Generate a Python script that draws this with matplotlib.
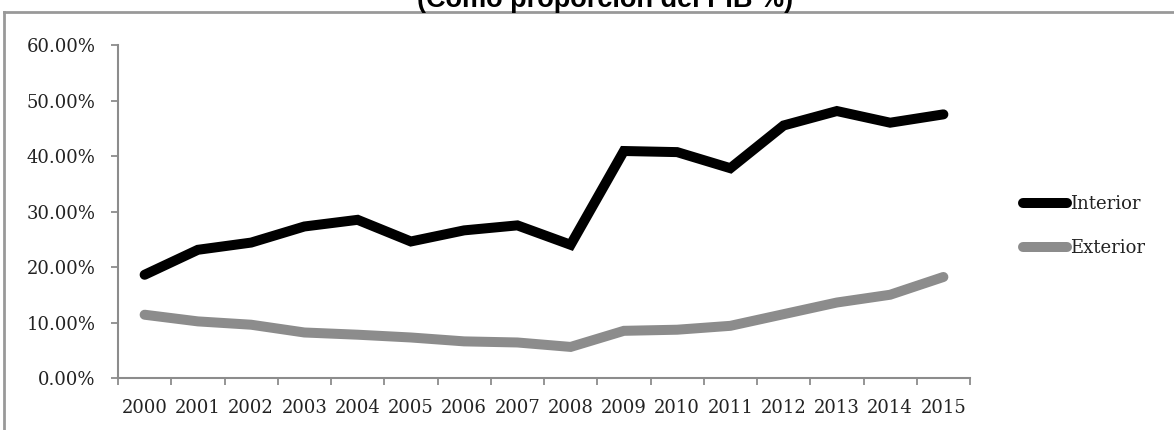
import matplotlib
matplotlib.use('Agg')
import matplotlib.pyplot as plt
from matplotlib.lines import Line2D
from matplotlib.ticker import FuncFormatter, MultipleLocator, FixedLocator
import numpy as np

# data (% of GDP)
years = ['2000', '2001', '2002', '2003', '2004', '2005', '2006', '2007',
         '2008', '2009', '2010', '2011', '2012', '2013', '2014', '2015']
interior = [18.6, 23.1, 24.4, 27.3, 28.5, 24.6, 26.6, 27.5,
            24.0, 40.9, 40.7, 37.8, 45.5, 48.1, 46.0, 47.5]
exterior = [11.4, 10.2, 9.6, 8.2, 7.8, 7.3, 6.6, 6.4,
            5.6, 8.5, 8.7, 9.4, 11.5, 13.6, 15.0, 18.2]

W, H = 1174, 430
fig = plt.figure(figsize=(W / 100, H / 100), dpi=100)
ax = fig.add_axes([118 / W, 1 - 378 / H, (970 - 118) / W, (378 - 45) / H])

x = np.arange(len(years))
ax.plot(x, interior, color='black', lw=7.2, solid_capstyle='round',
        solid_joinstyle='miter', label='Interior')
ax.plot(x, exterior, color='#8c8c8c', lw=7.2, solid_capstyle='round',
        solid_joinstyle='miter', label='Exterior')

ax.set_xlim(-0.5, len(years) - 0.5)
ax.set_ylim(0, 60)
ax.yaxis.set_major_locator(MultipleLocator(10))
ax.yaxis.set_major_formatter(FuncFormatter(lambda v, p: f'{v:.2f}%'))

# category ticks sit between categories, labels at centres
ax.xaxis.set_major_locator(FixedLocator(np.arange(-0.5, len(years), 1.0)))
ax.xaxis.set_major_formatter(FuncFormatter(lambda v, p: ''))
ax.xaxis.set_minor_locator(FixedLocator(x))
ax.set_xticklabels(years, minor=True)
ax.tick_params(axis='x', which='minor', length=0, pad=15)
ax.tick_params(axis='y', pad=11)
ax.tick_params(axis='both', which='major', direction='out', length=5,
               width=1.3, color='#8c8c8c')

for lab in ax.get_yticklabels() + ax.get_xticklabels(minor=True):
    lab.set_family('DejaVu Serif')
    lab.set_fontsize(13)
    lab.set_color('#222222')

for s in ['top', 'right']:
    ax.spines[s].set_visible(False)
for s in ['left', 'bottom']:
    ax.spines[s].set_color('#8c8c8c')
    ax.spines[s].set_linewidth(1.5)

leg = fig.legend(loc='center left', bbox_to_anchor=(1023 / W, 1 - 226 / H),
                 frameon=False, handlelength=2.45, handletextpad=0.15,
                 labelspacing=1.45, borderpad=0, borderaxespad=0,
                 prop={'family': 'DejaVu Serif', 'size': 13})
for t in leg.get_texts():
    t.set_color('#222222')

# title, cut off at the top of the screenshot
fig.text(0.515, 1 - 7 / H, '(Como proporción del PIB %)', ha='center',
         va='baseline', fontsize=19.5, fontweight='bold',
         family='Liberation Sans')

# grey frame of the screenshot
fig.add_artist(Line2D([4 / W, 1], [1 - 12 / H, 1 - 12 / H], color='#999999',
                      lw=2, transform=fig.transFigure))
fig.add_artist(Line2D([4 / W, 4 / W], [0, 1 - 12 / H], color='#999999',
                      lw=2, transform=fig.transFigure))

fig.savefig('out.png', dpi=100, facecolor='white')
